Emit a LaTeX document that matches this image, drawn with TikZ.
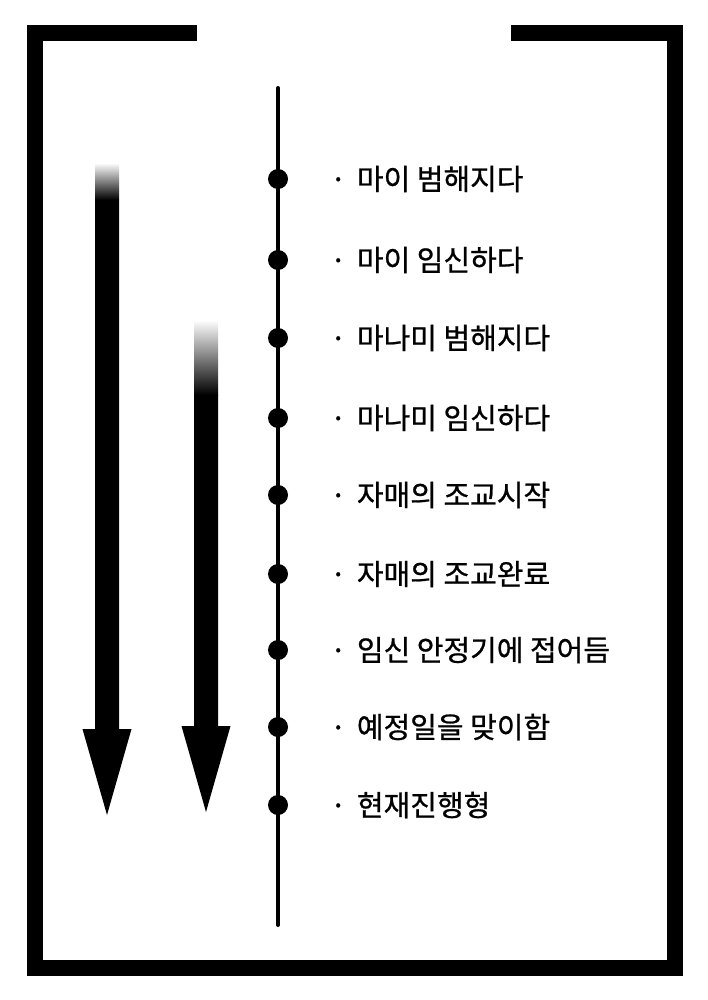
\documentclass[tikz,border=0pt]{standalone}
\usepackage{fontspec}
\newfontfamily\krfont[FakeBold=0.8]{Noto Sans CJK KR}
\usetikzlibrary{positioning}
\tikzset{>=stealth}
\tikzset{
  event/.style={circle, fill=black, inner sep=0pt, minimum size=20pt},
  eventlabel/.style={inner sep=0pt, font=\krfont\fontsize{29}{32}\selectfont},
  frameline/.style={line width=16pt, line join=miter},
  timeline/.style={line width=4pt, line cap=round}
}
\begin{document}
\begin{tikzpicture}[x=1pt,y=-1pt]
\useasboundingbox (0,0) rectangle (708,1000);
%%%% frame
\draw[frameline] (197,33) -- (35.3,33) -- (35.3,968) -- (674.7,968) -- (674.7,33) -- (511,33);
%%%% arrows
\foreach \x/\ya/\yb/\yc/\yd [count=\i] in {107/163/200/729/815, 206/320/395/726/812}{
  \shade[top color=white, bottom color=black] (\x-12,\ya) rectangle (\x+12,\yb);
  \fill (\x-12,\yb) -- (\x+12,\yb) -- (\x+12,\yc) -- (\x+24.5,\yc) -- (\x,\yd) -- (\x-24.5,\yc) -- (\x-12,\yc) -- cycle;
}
%%%% timeline
\coordinate (top) at (278,88);
\coordinate (bottom) at (278,925);
\draw[timeline] (top) -- (bottom);
\foreach \y/\txt [count=\i] in {179/마이 범해지다, 260/마이 임신하다, 338/마나미 범해지다, 418/마나미 임신하다, 495/자매의 조교시작, 574/자매의 조교완료, 650/임신 안정기에 접어듬, 727/예정일을 맞이함, 805/현재진행형}{
  \node[event] (e\i) at (278,\y) {};
  \node[eventlabel, right=52pt of e\i.center] (l\i) {·\ \hspace{4pt}\txt};
}
\end{tikzpicture}
\end{document}
